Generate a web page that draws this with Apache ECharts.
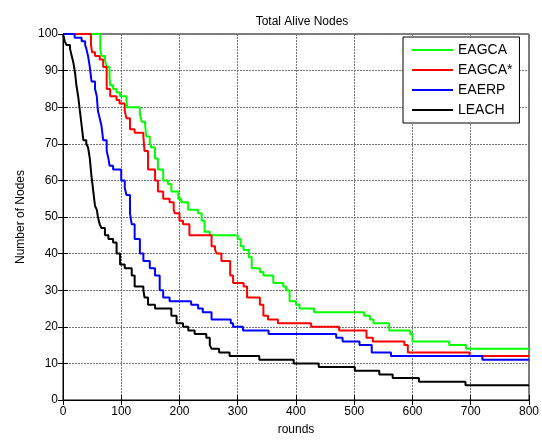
<!DOCTYPE html>
<html>
<head>
<meta charset="utf-8">
<script src="https://cdn.jsdelivr.net/npm/echarts@6/dist/echarts.min.js"></script>
<style>html,body{margin:0;padding:0;background:#fff;}#c{width:542px;height:441px;}</style>
</head>
<body>
<div id="c"></div>
<script>
// Step data: each pair is [round, alive nodes from that round onward]
const seriesNames = ['EAGCA', 'EAGCA*', 'EAERP', 'LEACH'];
const seriesColors = ['#00ff00', '#ff0000', '#0000ff', '#000000'];

const eagcaRounds = [0,64,66,72,75,80,81,86,92,98,109,110,132,135,141,143,149,152,158,163,172,180,186,198,203,215,232,238,243,252,300,305,310,319,324,338,344,361,378,383,389,400,406,431,517,527,533,560,596,600,663,692,800];
const eagcaNodes  = [100,96,94,93,91,88,86,85,84,83,82,80,78,76,75,72,70,69,66,63,60,59,57,55,54,52,51,49,46,45,44,42,41,39,36,35,34,32,31,30,27,26,25,24,23,22,21,19,18,16,15,14,14];

const eagcaStarRounds = [0,48,50,55,63,69,75,81,92,97,106,109,115,123,138,140,146,158,163,172,183,190,192,200,206,217,255,261,264,272,287,292,310,316,338,344,352,369,426,474,521,532,586,592,698,800];
const eagcaStarNodes  = [100,97,95,94,93,91,85,83,82,81,79,77,74,73,72,68,63,60,57,55,54,52,51,49,48,45,42,41,40,38,34,32,31,28,26,23,22,21,20,19,17,16,15,13,12,12];

const eaerpRounds = [0,20,32,38,40,43,46,49,55,58,60,63,66,69,75,78,80,86,100,106,109,115,118,123,132,138,149,158,166,172,183,220,232,240,255,288,292,309,353,469,480,509,530,563,720,800];
const eaerpNodes  = [100,99,98,97,96,94,91,87,85,83,79,77,75,71,68,66,64,63,60,58,56,51,48,44,40,38,36,34,30,28,27,26,25,24,22,21,20,19,18,17,16,15,13,12,11,11];

const leachRounds = [0,3,6,12,15,18,21,23,26,29,32,35,40,43,46,49,52,55,58,60,63,66,72,78,86,92,98,106,118,123,138,140,146,158,186,195,206,215,226,246,252,255,268,286,337,396,439,501,543,566,611,691,800];
const leachNodes  = [100,98,97,96,94,92,89,86,83,79,75,71,70,69,66,61,57,53,52,50,48,47,45,44,43,40,37,36,34,31,30,28,26,25,23,21,20,19,18,17,15,14,13,12,11,10,9,8,7,6,5,4,4];

const xTicks = {min: 0, max: 800, interval: 100};
const yTicks = {min: 0, max: 100, interval: 10};

function pairs(xs, ys) { return xs.map((x, i) => [x, ys[i]]); }
const allData = [
  pairs(eagcaRounds, eagcaNodes),
  pairs(eagcaStarRounds, eagcaStarNodes),
  pairs(eaerpRounds, eaerpNodes),
  pairs(leachRounds, leachNodes)
];

const font = "Arial, 'Liberation Sans', Helvetica, sans-serif";
const chart = echarts.init(document.getElementById('c'), null, {renderer: 'canvas'});
const splitStyle = {show: true, lineStyle: {color: '#777777', type: [2, 1], width: 1}};
chart.setOption({
  animation: false,
  backgroundColor: '#ffffff',
  title: {
    text: 'Total Alive Nodes',
    left: 297, top: 11, textAlign: 'center',
    textStyle: {fontFamily: font, fontSize: 12, fontWeight: 'normal', color: '#000'}
  },
  grid: {left: 63, right: 12, top: 34, bottom: 39, show: true, borderColor: '#000', borderWidth: 1, backgroundColor: 'transparent'},
  legend: {
    data: seriesNames,
    orient: 'vertical',
    left: 403, top: 37,
    padding: [6, 7, 6, 9],
    itemGap: 6,
    itemWidth: 41, itemHeight: 2,
    icon: 'rect',
    backgroundColor: '#fff',
    borderColor: '#000', borderWidth: 1,
    textStyle: {fontFamily: font, fontSize: 14, color: '#000', lineHeight: 14}
  },
  xAxis: [{
    type: 'value', min: xTicks.min, max: xTicks.max, interval: xTicks.interval,
    name: 'rounds', nameLocation: 'middle', nameGap: 24,
    nameTextStyle: {fontFamily: font, fontSize: 12, color: '#000'},
    axisLine: {show: true, lineStyle: {color: '#000', width: 1}},
    axisTick: {show: true, inside: true, length: 5, lineStyle: {color: '#000'}},
    axisLabel: {fontFamily: font, fontSize: 12, color: '#000', margin: 6},
    splitLine: splitStyle
  }, {
    type: 'value', position: 'top', min: xTicks.min, max: xTicks.max, interval: xTicks.interval,
    axisLine: {show: true, lineStyle: {color: '#000', width: 1}},
    axisTick: {show: true, inside: true, length: 5, lineStyle: {color: '#000'}},
    axisLabel: {show: false}, splitLine: {show: false}
  }],
  yAxis: [{
    type: 'value', min: yTicks.min, max: yTicks.max, interval: yTicks.interval,
    name: 'Number of Nodes', nameLocation: 'middle', nameGap: 36, nameRotate: 90,
    nameTextStyle: {fontFamily: font, fontSize: 12, color: '#000'},
    axisLine: {show: true, lineStyle: {color: '#000', width: 1}},
    axisTick: {show: true, inside: true, length: 5, lineStyle: {color: '#000'}},
    axisLabel: {fontFamily: font, fontSize: 12, color: '#000', margin: 5},
    splitLine: splitStyle
  }, {
    type: 'value', position: 'right', min: yTicks.min, max: yTicks.max, interval: yTicks.interval,
    axisLine: {show: true, lineStyle: {color: '#000', width: 1}},
    axisTick: {show: true, inside: true, length: 5, lineStyle: {color: '#000'}},
    axisLabel: {show: false}, splitLine: {show: false}
  }],
  series: seriesNames.map((name, i) => ({
    name: name,
    type: 'line',
    step: 'end',
    data: allData[i],
    showSymbol: false,
    clip: false,
    color: seriesColors[i],
    lineStyle: {color: seriesColors[i], width: 2},
    z: 3 + i
  }))
});
</script>
</body>
</html>
